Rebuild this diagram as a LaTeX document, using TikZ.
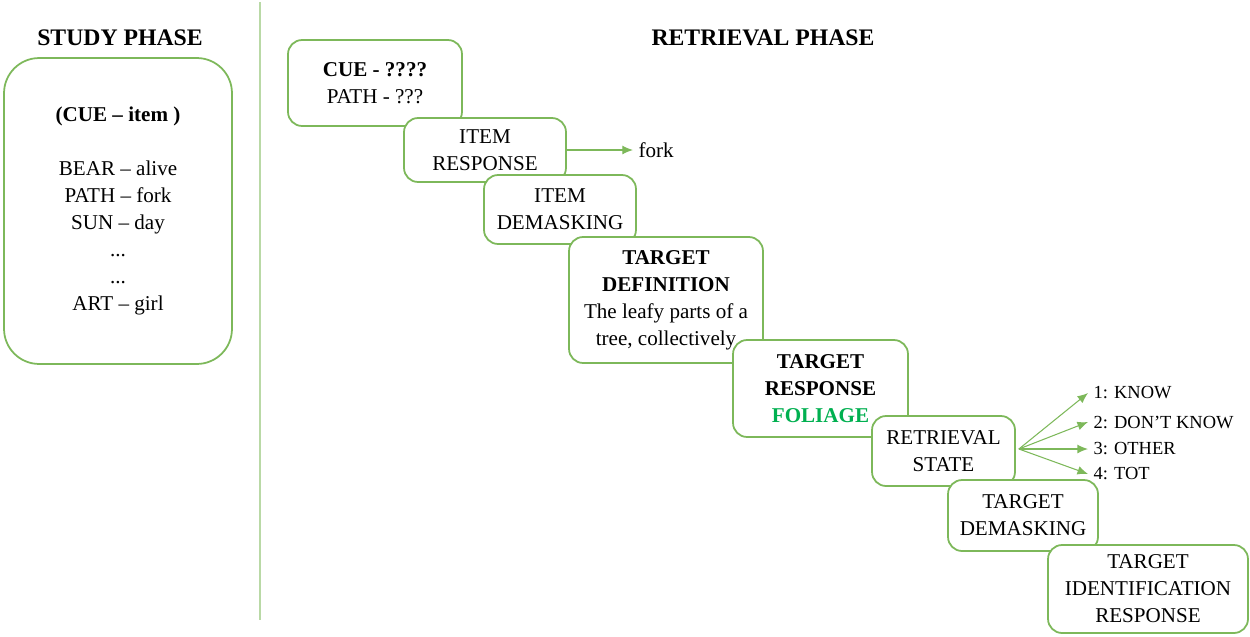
\documentclass[tikz,border=0pt]{standalone}
\usepackage{fontspec}
\setmainfont{Liberation Serif}
\usepackage{tikz}
\usetikzlibrary{arrows.meta, positioning, calc}
\definecolor{boxgreen}{HTML}{7DB85A}
\definecolor{rulegreen}{HTML}{B9D9A6}
\definecolor{answergreen}{HTML}{00B050}

\begin{document}
\begin{tikzpicture}[x=0.02cm, y=-0.02cm,
    font=\fontsize{12}{15.4}\selectfont, >={Latex[length=6pt,width=5pt]},
    phase/.style={rectangle, rounded corners=8pt, draw=boxgreen, line width=1pt,
      fill=white, align=center, inner sep=2pt},
    title/.style={font=\fontsize{13.5}{16}\selectfont\bfseries},
    answer/.style={anchor=west, inner sep=3pt},
    statelbl/.style={anchor=west, inner sep=3pt, font=\fontsize{10.5}{12}\selectfont},
  ]
    \useasboundingbox (0,0) rectangle (1250,636);

    % study side
    \node[title] (studytitle) at (120,38) {STUDY PHASE};
    \node[phase, rounded corners=20pt, minimum width=4.56cm, minimum height=6.12cm] (study) at (118,211)
      {\textbf{(CUE -- item )}\\[15.4pt] BEAR -- alive\\ PATH -- fork\\ SUN -- day\\ ...\\ ...\\ ART -- girl};

    \draw[rulegreen, line width=1pt] (260,2) -- (260,620);

    % retrieval side
    \node[title] (rettitle) at (763,38) {RETRIEVAL PHASE};

    \node[phase, minimum width=3.48cm, minimum height=1.72cm] (cue) at (375,83)
      {\textbf{CUE - ????}\\ PATH - ???};
    \node[phase, minimum width=3.24cm, minimum height=1.28cm] (itemresp) at (485,150)
      {ITEM\\ RESPONSE};
    \node[phase, minimum width=3.04cm, minimum height=1.38cm] (itemdemask) at (560,209.5)
      {ITEM\\ DEMASKING};
    \node[phase, minimum width=3.88cm, minimum height=2.52cm] (targetdef) at (666,300)
      {\textbf{TARGET}\\ \textbf{DEFINITION}\\ The leafy parts of a\\ tree, collectively};
    \node[phase, minimum width=3.5cm, minimum height=1.94cm] (targetresp) at (820.5,388.5)
      {\textbf{TARGET}\\ \textbf{RESPONSE}\\ \textcolor{answergreen}{\textbf{FOLIAGE}}};
    \node[phase, minimum width=2.86cm, minimum height=1.4cm] (retstate) at (943.5,451)
      {RETRIEVAL\\ STATE};
    \node[phase, minimum width=3.0cm, minimum height=1.42cm] (targetdemask) at (1023,515.5)
      {TARGET\\ DEMASKING};
    \node[phase, minimum width=4.0cm, minimum height=1.76cm] (targetid) at (1148,589)
      {TARGET\\ IDENTIFICATION\\ RESPONSE};

    \node[answer] (fork) at (633,150) {fork};
    \draw[->, boxgreen, line width=0.6pt] (itemresp.east) -- (fork.west);

    \node[statelbl] (know)    at (1088,393) {1: KNOW};
    \node[statelbl] (dontknow) at (1088,422) {2: DON’T KNOW};
    \node[statelbl] (other)   at (1088,449) {3: OTHER};
    \node[statelbl] (tot)     at (1088,474) {4: TOT};

    \coordinate (fan) at ($(retstate.east)+(3,-2)$);
    \draw[->, boxgreen, line width=0.6pt] (fan) -- (know.west);
    \draw[->, boxgreen, line width=0.6pt] (fan) -- (dontknow.west);
    \draw[->, boxgreen, line width=0.6pt] (fan) -- (other.west);
    \draw[->, boxgreen, line width=0.6pt] (fan) -- (tot.west);
  \end{tikzpicture}
\end{document}
